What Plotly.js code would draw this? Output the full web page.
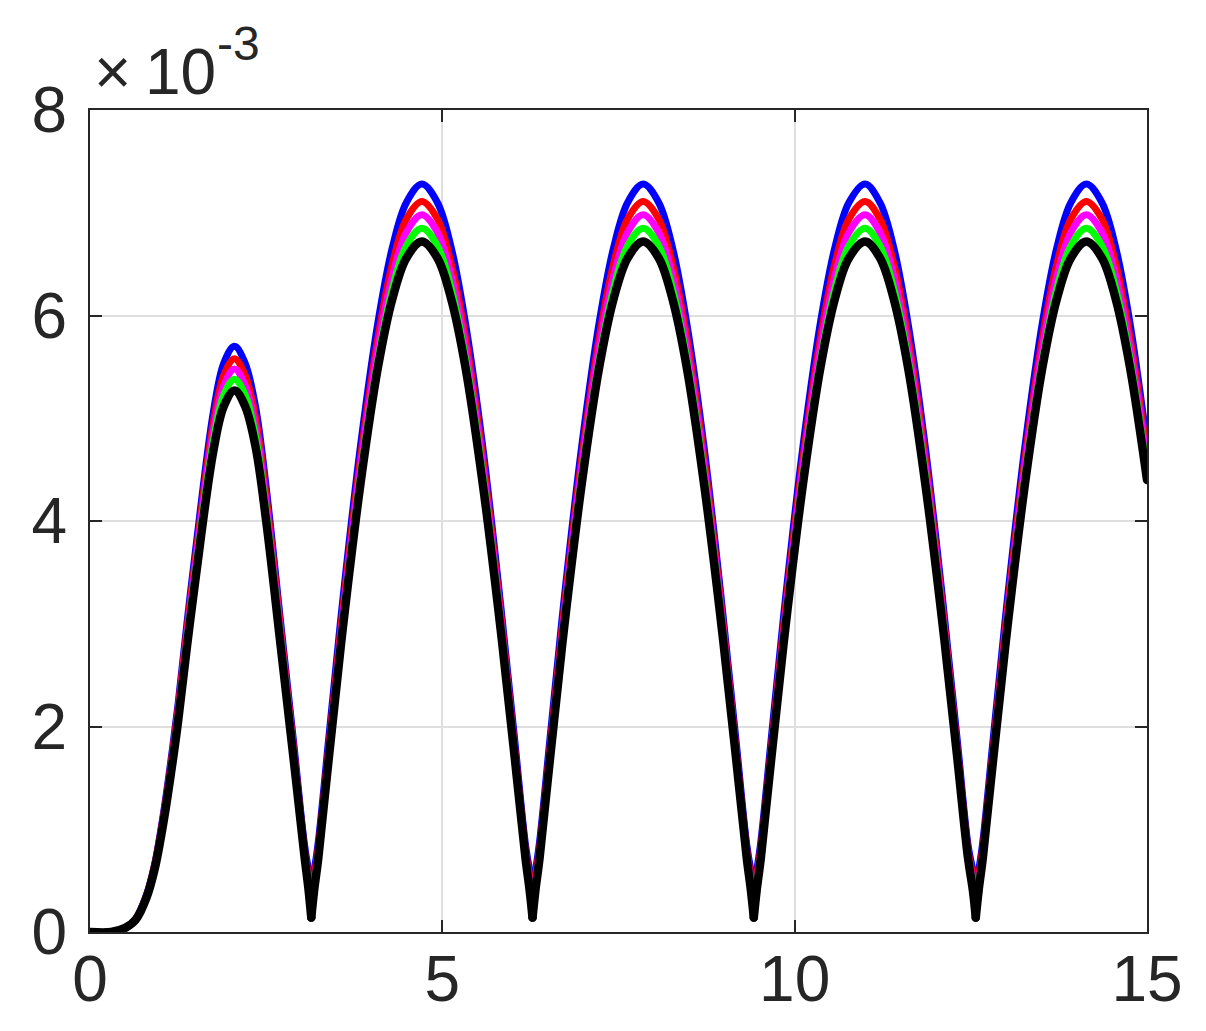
<!DOCTYPE html>
<html>
<head>
<meta charset="utf-8">
<script src="https://cdn.plot.ly/plotly-3.0.1.min.js"></script>
<style>
html,body{margin:0;padding:0;background:#fff;}
#chart{width:1206px;height:1031px;}
#chart path.js-line{stroke-linecap:round !important;stroke-linejoin:round !important;}
</style>
</head>
<body>
<div id="chart"></div>
<script>
// time axis (shared by all series)
const tValues = [
  0, 0.3, 0.5, 0.65, 0.8, 0.92, 1.05, 1.15, 1.25, 1.38, 1.5, 1.75, 1.9, 2.05, 2.2, 2.35, 2.5, 2.7, 2.9, 3.04, 3.10, 3.14,
  3.18, 3.24, 3.39, 3.59, 3.84, 4.09, 4.29, 4.49, 4.71, 4.93, 5.13, 5.33, 5.58, 5.83, 6.03, 6.18, 6.24, 6.28,
  6.32, 6.38, 6.53, 6.73, 6.98, 7.23, 7.43, 7.63, 7.85, 8.07, 8.27, 8.47, 8.72, 8.97, 9.17, 9.32, 9.38, 9.42,
  9.46, 9.52, 9.67, 9.87, 10.12, 10.37, 10.57, 10.77, 11.0, 11.21, 11.41, 11.61, 11.86, 12.11, 12.31, 12.46, 12.53, 12.57,
  12.61, 12.67, 12.82, 13.02, 13.27, 13.52, 13.72, 13.92, 14.14, 14.36, 14.56, 14.76, 15.0
];
// times of the sharp minima (cusps)
const cuspTimes = [3.14, 6.28, 9.42, 12.57];

// series values, in units of 1e-3
const blueValues = [
  0, 0, 0.04, 0.13, 0.36, 0.67, 1.19, 1.68, 2.22, 3.03, 3.73, 5.06, 5.54, 5.70, 5.54, 5.11, 4.33, 3.05, 1.78, 0.87, 0.61, 0.48,
  0.60, 0.88, 1.90, 3.25, 4.74, 5.95, 6.66, 7.10, 7.28, 7.10, 6.65, 5.92, 4.69, 3.17, 1.85, 0.85, 0.60, 0.48,
  0.60, 0.88, 1.90, 3.25, 4.74, 5.95, 6.66, 7.10, 7.28, 7.10, 6.65, 5.92, 4.69, 3.17, 1.85, 0.85, 0.60, 0.48,
  0.60, 0.88, 1.90, 3.25, 4.74, 5.95, 6.66, 7.10, 7.28, 7.10, 6.65, 5.92, 4.69, 3.17, 1.85, 0.85, 0.60, 0.48,
  0.60, 0.88, 1.90, 3.25, 4.74, 5.95, 6.66, 7.10, 7.28, 7.10, 6.65, 5.92, 4.75
];
const redValues = [
  0, 0, 0.04, 0.13, 0.35, 0.66, 1.16, 1.64, 2.17, 2.97, 3.65, 4.96, 5.42, 5.58, 5.42, 5.00, 4.24, 2.99, 1.72, 0.82, 0.55, 0.40,
  0.54, 0.82, 1.81, 3.15, 4.62, 5.80, 6.50, 6.94, 7.11, 6.94, 6.49, 5.78, 4.58, 3.09, 1.77, 0.80, 0.54, 0.40,
  0.54, 0.82, 1.81, 3.15, 4.62, 5.80, 6.50, 6.94, 7.11, 6.94, 6.49, 5.78, 4.58, 3.09, 1.77, 0.80, 0.54, 0.40,
  0.54, 0.82, 1.81, 3.15, 4.62, 5.80, 6.50, 6.94, 7.11, 6.94, 6.49, 5.78, 4.58, 3.09, 1.77, 0.80, 0.54, 0.40,
  0.54, 0.82, 1.81, 3.15, 4.62, 5.80, 6.50, 6.94, 7.11, 6.94, 6.49, 5.78, 4.64
];
const magentaValues = [
  0, 0, 0.04, 0.12, 0.34, 0.64, 1.14, 1.61, 2.13, 2.91, 3.59, 4.87, 5.32, 5.48, 5.32, 4.91, 4.16, 2.93, 1.69, 0.79, 0.50, 0.33,
  0.49, 0.78, 1.77, 3.08, 4.53, 5.70, 6.38, 6.81, 6.98, 6.81, 6.37, 5.68, 4.50, 3.04, 1.74, 0.77, 0.49, 0.33,
  0.49, 0.78, 1.77, 3.08, 4.53, 5.70, 6.38, 6.81, 6.98, 6.81, 6.37, 5.68, 4.50, 3.04, 1.74, 0.77, 0.49, 0.33,
  0.49, 0.78, 1.77, 3.08, 4.53, 5.70, 6.38, 6.81, 6.98, 6.81, 6.37, 5.68, 4.50, 3.04, 1.74, 0.77, 0.49, 0.33,
  0.49, 0.78, 1.77, 3.08, 4.53, 5.70, 6.38, 6.81, 6.98, 6.81, 6.37, 5.68, 4.56
];
const greenValues = [
  0, 0, 0.04, 0.12, 0.34, 0.63, 1.12, 1.58, 2.09, 2.86, 3.52, 4.78, 5.23, 5.38, 5.23, 4.82, 4.08, 2.88, 1.66, 0.78, 0.46, 0.25,
  0.45, 0.75, 1.72, 3.01, 4.44, 5.58, 6.26, 6.68, 6.85, 6.68, 6.25, 5.57, 4.41, 2.98, 1.70, 0.74, 0.45, 0.25,
  0.45, 0.75, 1.72, 3.01, 4.44, 5.58, 6.26, 6.68, 6.85, 6.68, 6.25, 5.57, 4.41, 2.98, 1.70, 0.74, 0.45, 0.25,
  0.45, 0.75, 1.72, 3.01, 4.44, 5.58, 6.26, 6.68, 6.85, 6.68, 6.25, 5.57, 4.41, 2.98, 1.70, 0.74, 0.45, 0.25,
  0.45, 0.75, 1.72, 3.01, 4.44, 5.58, 6.26, 6.68, 6.85, 6.68, 6.25, 5.57, 4.47
];
const blackValues = [
  0, 0, 0.04, 0.12, 0.33, 0.62, 1.10, 1.55, 2.05, 2.80, 3.45, 4.68, 5.12, 5.27, 5.12, 4.72, 4.00, 2.82, 1.62, 0.76, 0.42, 0.14,
  0.40, 0.72, 1.70, 2.97, 4.37, 5.51, 6.16, 6.56, 6.72, 6.56, 6.15, 5.49, 4.33, 2.93, 1.68, 0.72, 0.40, 0.14,
  0.40, 0.72, 1.70, 2.97, 4.37, 5.51, 6.16, 6.56, 6.72, 6.56, 6.15, 5.49, 4.33, 2.93, 1.68, 0.72, 0.40, 0.14,
  0.40, 0.72, 1.70, 2.97, 4.37, 5.51, 6.16, 6.56, 6.72, 6.56, 6.15, 5.49, 4.33, 2.93, 1.68, 0.72, 0.40, 0.14,
  0.40, 0.72, 1.70, 2.97, 4.37, 5.51, 6.16, 6.56, 6.72, 6.56, 6.15, 5.49, 4.40
];

const xTickVals = [0, 5, 10, 15];
const xTickText = ['0', '5', '10', '15'];
const yTickVals = [0, 2, 4, 6, 8];
const yTickText = ['0', '2', '4', '6', '8'];
const exponentTimes = '×';
const exponentBase = '10';
const exponentPower = '-3';

const seriesList = [
  {values: blueValues, color: '#0000ff', width: 7},
  {values: redValues, color: '#ff0000', width: 7},
  {values: magentaValues, color: '#ff00ff', width: 7},
  {values: greenValues, color: '#00ff00', width: 7},
  {values: blackValues, color: '#000000', width: 8.5}
];

// split at the cusps so each smooth arch keeps a sharp V at the minima
const breakIdx = [0].concat(cuspTimes.map(c => tValues.indexOf(c)), [tValues.length - 1]);

const traces = [];
seriesList.forEach(s => {
  for (let k = 0; k < breakIdx.length - 1; k++) {
    const a = breakIdx[k], b = breakIdx[k + 1];
    traces.push({
      type: 'scatter',
      mode: 'lines',
      x: tValues.slice(a, b + 1),
      y: s.values.slice(a, b + 1),
      line: {color: s.color, width: s.width, shape: 'spline', smoothing: 1},
      hoverinfo: 'skip',
      showlegend: false
    });
  }
});

const fontFamily = 'Liberation Sans, Arial, Helvetica, sans-serif';
const axisColor = '#262626';

const axisCommon = {
  ticks: 'inside',
  ticklen: 12,
  tickwidth: 2,
  tickcolor: axisColor,
  showline: true,
  linecolor: axisColor,
  linewidth: 2,
  mirror: 'ticks',
  showgrid: true,
  gridcolor: '#dfdfdf',
  gridwidth: 2,
  zeroline: false,
  tickfont: {family: fontFamily, size: 64, color: axisColor},
  fixedrange: true
};

const annotBase = {
  xref: 'paper', yref: 'paper',
  xanchor: 'left', yanchor: 'bottom',
  showarrow: false,
  borderpad: 0
};

const layout = {
  width: 1206,
  height: 1031,
  margin: {l: 90, r: 59, t: 110, b: 99, pad: 0},
  paper_bgcolor: '#ffffff',
  plot_bgcolor: '#ffffff',
  showlegend: false,
  xaxis: Object.assign({}, axisCommon, {
    range: [0, 15],
    tickmode: 'array',
    tickvals: xTickVals,
    ticktext: xTickText,
    ticklabelstandoff: -10
  }),
  yaxis: Object.assign({}, axisCommon, {
    range: [0, 8],
    tickmode: 'array',
    tickvals: yTickVals,
    ticktext: yTickText,
    ticklabelstandoff: 8
  }),
  annotations: [
    Object.assign({}, annotBase, {
      text: exponentTimes, x: 0.0033, y: 1, yshift: 1.5,
      font: {family: fontFamily, size: 64, color: axisColor}
    }),
    Object.assign({}, annotBase, {
      text: exponentBase, x: 0.0511, y: 1, yshift: 1.5,
      font: {family: fontFamily, size: 64, color: axisColor}
    }),
    Object.assign({}, annotBase, {
      text: exponentPower, x: 0.1193, y: 1.048,
      font: {family: fontFamily, size: 48, color: axisColor}
    })
  ]
};

Plotly.newPlot('chart', traces, layout, {displayModeBar: false, staticPlot: true});
</script>
</body>
</html>
